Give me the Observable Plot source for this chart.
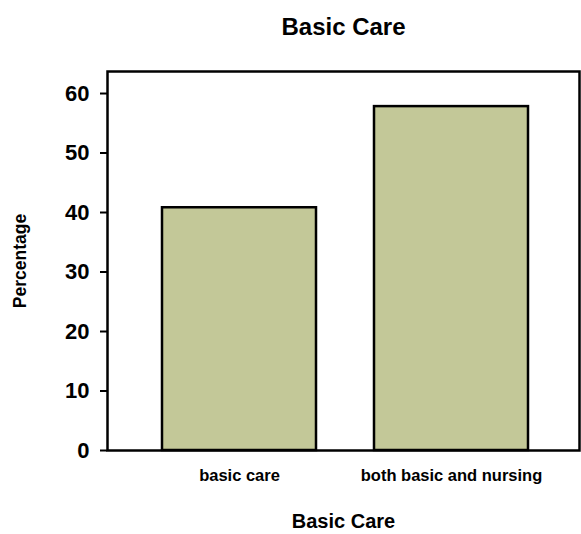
<!DOCTYPE html>
<html>
<head>
<meta charset="utf-8">
<script src="https://cdn.jsdelivr.net/npm/d3@7"></script>
<script src="https://cdn.jsdelivr.net/npm/@observablehq/plot@0.6"></script>
<style>
  body { margin: 0; background: white; font-family: "Liberation Sans", Arial, sans-serif; }
</style>
</head>
<body>
<div id="chart"></div>
<script>
const categories = ["basic care", "both basic and nursing"];
const values = [40.8, 57.8];
const yTicks = [0, 10, 20, 30, 40, 50, 60];
const title = "Basic Care";
const xLabel = "Basic Care";
const yLabel = "Percentage";

const data = categories.map((c, i) => ({cat: c, val: values[i]}));

const chart = Plot.plot({
  width: 581,
  height: 534,
  marginTop: 71,
  marginBottom: 84,
  marginLeft: 107,
  marginRight: 2,
  style: {fontFamily: "'Liberation Sans', Arial, sans-serif", fontWeight: "bold", color: "#000", background: "white", overflow: "visible"},
  x: {domain: categories, paddingInner: 0.273, paddingOuter: 0.247, align: 0.524, label: null},
  y: {domain: [0, 63.7], label: null},
  marks: [
    Plot.barY(data, {x: "cat", y: "val", fill: "#c3c898", stroke: "black", strokeWidth: 2.5}),
    Plot.frame({stroke: "black", strokeWidth: 2.5}),
    Plot.axisY({ticks: yTicks, tickSize: 7, tickPadding: 11, fontSize: 22, label: null, tickFormat: d => d, strokeWidth: 2}),
    Plot.axisX({tickSize: 0, tickPadding: 19, fontSize: 16.5, label: null}),
    Plot.text([title], {frameAnchor: "top", lineAnchor: "middle", text: d => d, dy: -44.5, fontSize: 24, fontWeight: "bold"}),
    Plot.text([yLabel], {frameAnchor: "left", textAnchor: "middle", lineAnchor: "middle", text: d => d, rotate: -90, dx: -87.5, fontSize: 17.5, fontWeight: "bold"}),
    Plot.text([xLabel], {frameAnchor: "bottom", lineAnchor: "middle", text: d => d, dy: 71, fontSize: 20, fontWeight: "bold"})
  ]
});
document.getElementById("chart").appendChild(chart);
</script>
</body>
</html>
